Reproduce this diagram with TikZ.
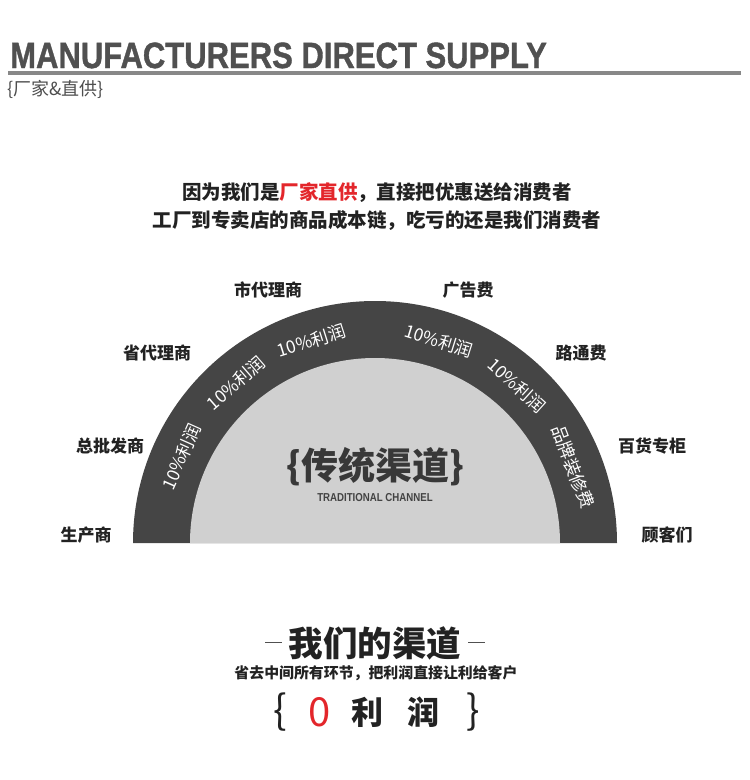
\documentclass[tikz,border=0pt]{standalone}
\usepackage{fontspec}
\setmainfont{Liberation Sans}
\newfontfamily\cjk{Noto Sans CJK SC}
\newfontfamily\headfont[FakeBold=1.2]{Liberation Sans Bold}
\usetikzlibrary{calc}
\definecolor{band}{HTML}{454545}
\definecolor{inner}{HTML}{D0D0D0}
\definecolor{txt}{HTML}{222222}
\definecolor{head}{HTML}{505050}
\definecolor{rule}{HTML}{888888}
\definecolor{red}{HTML}{E3262B}
\tikzset{
  lbl/.style={font=\cjk\bfseries\fontsize{17}{17}\selectfont, text=txt, inner sep=0pt},
  bandtxt/.style={font=\cjk\fontsize{17.5}{17.5}\selectfont, text=white, inner sep=0pt},
  intro/.style={font=\cjk\bfseries\fontsize{19.5}{19.5}\selectfont, text=txt, inner sep=0pt},
  big/.style={font=\cjk\bfseries\fontsize{32}{32}\selectfont, text=txt, inner sep=0pt},
  brace/.style={font=\cjk\fontsize{40}{40}\selectfont, text=txt, inner sep=0pt},
}
\begin{document}
\begin{tikzpicture}[x=1pt,y=1pt]
\useasboundingbox (0,0) rectangle (750,-780);
% header
\node[anchor=base west, inner sep=0pt, text=head, font=\headfont\fontsize{36.5}{36.5}\selectfont] (title) at (10,-68) {\scalebox{0.85}[1]{MANUFACTURERS DIRECT SUPPLY}};
\coordinate (r1) at (8,-73);
\coordinate (r2) at (741,-73);
\draw[rule, line width=3.5pt] (r1) -- (r2);
\node[anchor=west, inner sep=0pt, text=txt!80, font=\cjk\fontsize{18}{18}\selectfont] (sub) at (7,-89) {\{厂家\&直供\}};
% intro lines
\node[intro] (l1) at (377,-193) {因为我们是\textcolor{red}{厂家直供}，直接把优惠送给消费者};
\node[intro] (l2) at (377,-221) {工厂到专卖店的商品成本链，吃亏的还是我们消费者};
% semicircle
\coordinate (c) at (375,-543);
\fill[band] (133,-543) arc[start angle=180, end angle=0, radius=242pt] -- cycle;
\fill[inner] (190,-543) arc[start angle=180, end angle=0, radius=185pt] -- cycle;
% band texts
\node[bandtxt, rotate=66] (b1) at ($(c)+(156:212)$) {10\%利润};
\node[bandtxt, rotate=41] (b2) at ($(c)+(131:212)$) {10\%利润};
\node[bandtxt, rotate=17.5] (b3) at ($(c)+(107.5:212)$) {10\%利润};
\node[bandtxt, rotate=-17.5] (b4) at ($(c)+(72.5:212)$) {10\%利润};
\node[bandtxt, rotate=-42] (b5) at ($(c)+(48:212)$) {10\%利润};
\node[bandtxt, rotate=-69] (b6) at ($(c)+(21:212)$) {品牌装修费};
% center
\node[inner sep=0pt, text=txt!90, font=\cjk\bfseries\fontsize{37}{37}\selectfont] (ct) at (375,-467) {\{传统渠道\}};
\node[inner sep=0pt, text=txt!85, font=\bfseries\fontsize{11.5}{11.5}\selectfont] (ce) at (375,-498) {\scalebox{0.84}[1]{TRADITIONAL CHANNEL}};
% outside labels
\node[lbl] (s1) at (268,-290) {市代理商};
\node[lbl] (s2) at (157,-353) {省代理商};
\node[lbl] (s3) at (110,-446) {总批发商};
\node[lbl] (s4) at (86,-535) {生产商};
\node[lbl] (s5) at (468,-290) {广告费};
\node[lbl] (s6) at (581,-353) {路通费};
\node[lbl] (s7) at (652,-446) {百货专柜};
\node[lbl] (s8) at (667,-535) {顾客们};
% bottom
\node[big, font=\cjk\bfseries\fontsize{34.5}{34.5}\selectfont] (our) at (375,-643) {我们的渠道};
\coordinate (d1a) at (265,-642);
\coordinate (d1b) at (282,-642);
\coordinate (d2a) at (468,-642);
\coordinate (d2b) at (485,-642);
\draw[head, line width=0.8pt] (d1a) -- (d1b);
\draw[head, line width=0.8pt] (d2a) -- (d2b);
\node[inner sep=0pt, text=txt, font=\cjk\bfseries\fontsize{14.9}{14.9}\selectfont] (note) at (376,-673) {省去中间所有环节，把利润直接让利给客户};
\node[brace] (br1) at (280,-712) {\{};
\node[brace, text=red] (zero) at (320,-712) {0};
\node[big] (li) at (367,-712) {利};
\node[big] (run) at (423,-712) {润};
\node[brace] (br2) at (473,-712) {\}};
\end{tikzpicture}
\end{document}
